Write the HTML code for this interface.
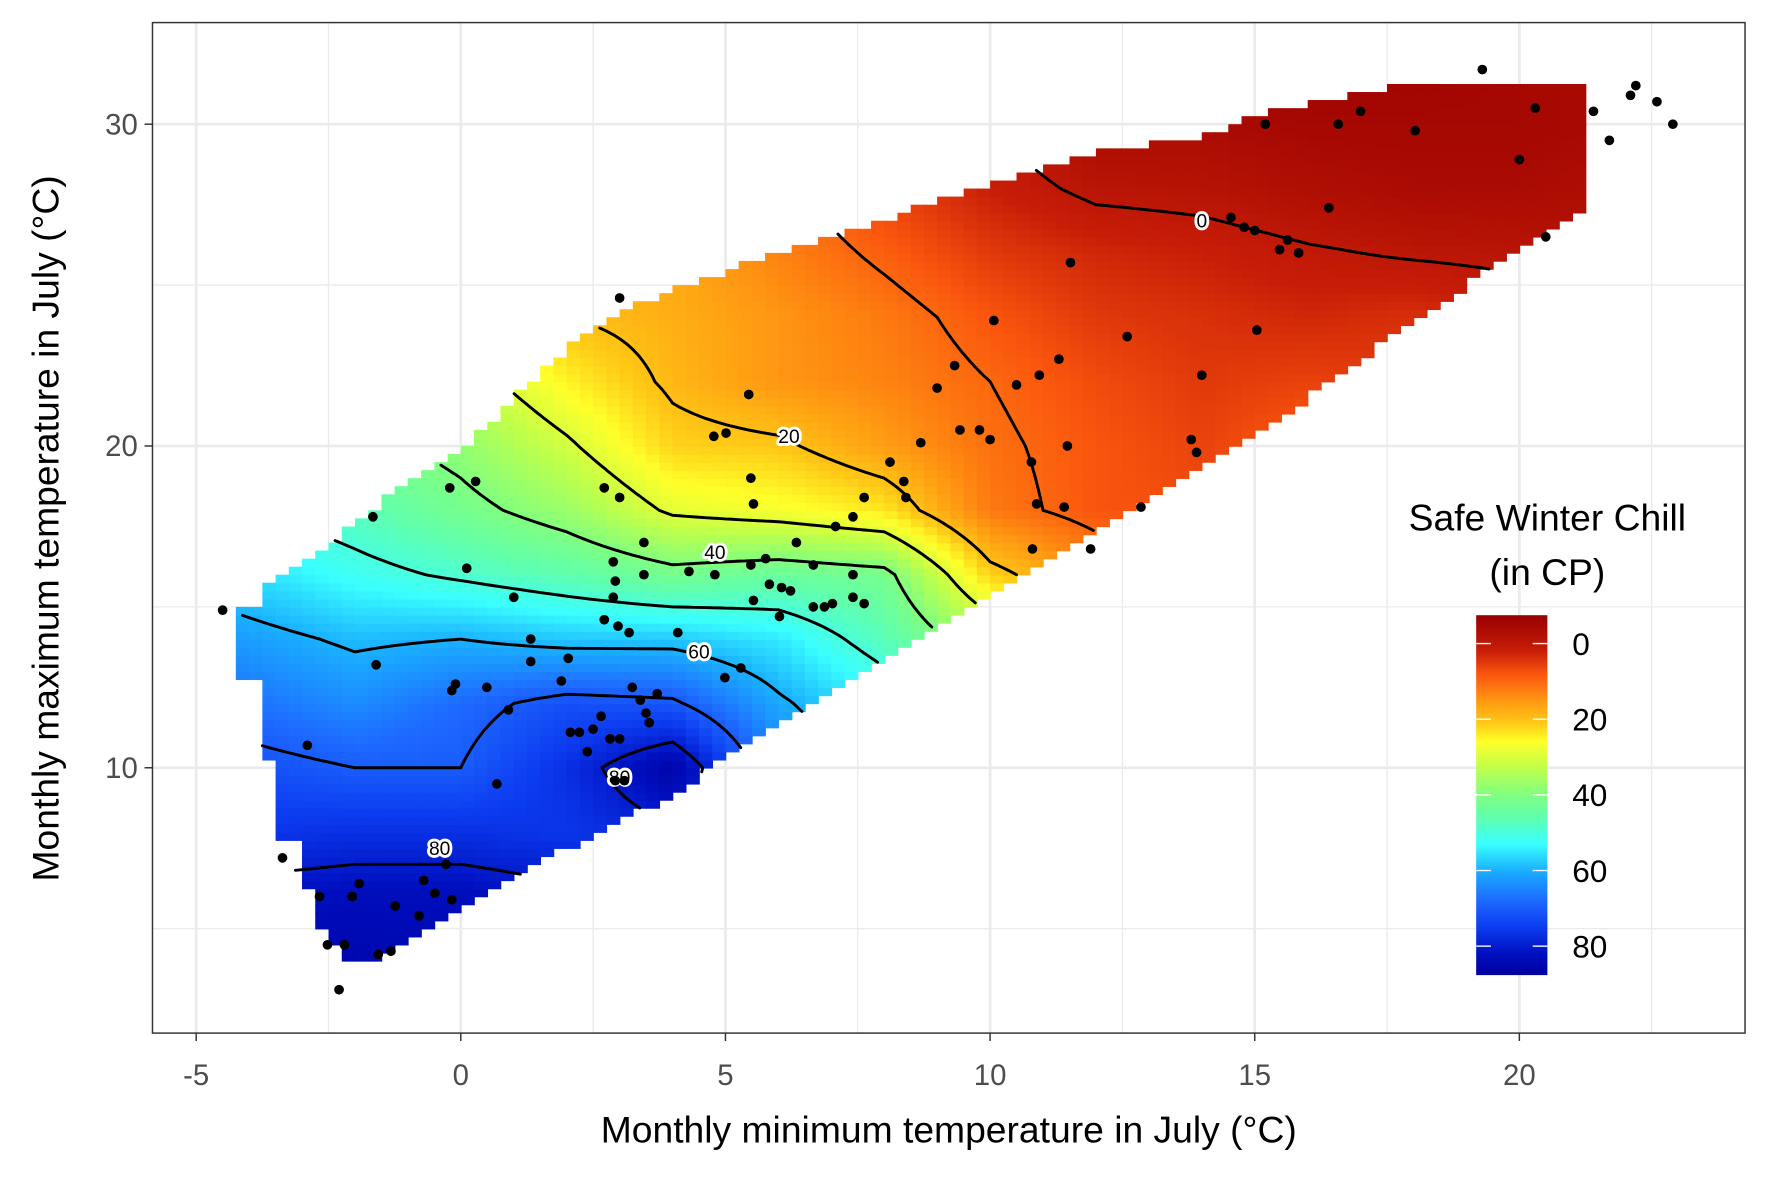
<!DOCTYPE html>
<html><head><meta charset="utf-8"><style>
html,body{margin:0;padding:0;background:#fff;}
svg{display:block;font-family:"Liberation Sans",sans-serif;}
</style></head><body>
<svg id="chart" width="1771" height="1181" viewBox="0 0 1568 1046" preserveAspectRatio="none" xmlns="http://www.w3.org/2000/svg">
<rect x="0" y="0" width="1568" height="1046" fill="#fff"/>
<g id="grid"></g>
<g id="fill"></g>
<g id="contours"></g>
<g id="clabels"></g>
<g id="points"></g>
<rect x="135" y="20" width="1410" height="895" fill="none" stroke="#333" stroke-width="1.3"/>
<g id="axes"></g>
<text x="840" y="1012" font-size="33" text-anchor="middle" fill="#000">Monthly minimum temperature in July (°C)</text>
<text transform="translate(52,468) rotate(-90)" font-size="33" text-anchor="middle" fill="#000">Monthly maximum temperature in July (°C)</text>
<g id="legend">
<text x="1370" y="470" font-size="33" text-anchor="middle">Safe Winter Chill</text>
<text x="1370" y="518" font-size="33" text-anchor="middle">(in CP)</text>
</g>
</svg>
<script>
const X=[-4,-2,0,2,4,6,8,10,12,14,16,18,20,22];
const Y=[4,6,8,10,12,14,16,18,20,22,24,26,28,30,32];
const Z=[
[86,85,84,82,80,78,75,72,68,64,60,56,52,50],
[82,83,83,81,79,76,72,70,66,62,58,54,50,48],
[76,77,77,76,79,72,68,62,58,54,50,46,42,40],
[72,70,70,77,86,65,60,52,46,40,34,30,26,24],
[67,64,68,72,71,61,54,46,38,32,26,22,18,16],
[62,59,60,58,58,55,47,35,30,24,18,14,12,10],
[56,52,49,46,42,44,42,22,14,10,8,7,6,6],
[50,47,42,37,29,27,24,12,8,7,6,6,5,5],
[45,42,38,31,22,21,16,11,8,6,9,6,5,4],
[40,37,33,25,19,15,13,10,7,5,6,5,3,2],
[35,32,28,20,18,15,12,8,5,4,3,4,2,1],
[30,28,25,18,17,13,9,5,3,2,0.5,-0.5,-1,-2],
[25,22,20,16,15,11,6,2,-1,-1.5,-3,-4,-4,-3],
[20,18,16,14,13,9,4,0,-4,-4,-5,-5,-5,-4],
[15,14,13,12,11,7,2,-2,-5,-5,-6,-6,-5,-4]];
const maskX=[-4.15,-3.8,-3.79,-3.45,-3.44,-3.1,-3.09,-2.75,-2.74,-2.4,-2,-1,0,1,2,3,4,5,6,7,8,9,10,11,12,13,14,15,16,17,18,19,20,21,21.3];
const maskLo=[12.7,12.7,10.2,10.2,7.7,7.7,6.2,6.2,5.2,4.5,3.8,4.6,5.7,6.6,7.5,8.3,9.2,10.3,11.3,12.4,13.5,14.4,15.4,16.4,17.4,18.3,19.3,20.4,21.5,22.7,23.9,25,26.2,27.2,27.5];
const maskHi=[14.9,14.9,15.7,16.0,16.0,16.3,16.3,16.6,16.6,17.0,17.7,18.8,19.8,21.5,23,24.2,24.8,25.4,26,26.5,27,27.6,28.1,28.6,29.1,29.4,29.6,30.3,30.6,31,31.3,31.3,31.3,31.3,31.3];
const levels=[0,10,20,30,40,50,60,70,80];
const ptX=[-4.5,-3.37,-2.9,-2.67,-2.52,-2.3,-2.2,-2.05,-1.92,-1.56,-1.32,-1.24,-0.79,-0.7,-0.49,-0.28,-0.17,-1.66,-1.6,-0.21,0.11,0.28,-0.17,-0.1,0.49,0.68,0.9,1.0,1.32,1.32,1.9,2.03,2.07,2.24,2.39,2.5,2.65,2.82,2.92,3.09,3.0,3.24,3.39,3.5,3.56,3.71,2.71,3.0,3.0,2.88,2.92,2.88,2.97,3.18,2.71,3.46,3.46,4.1,4.31,4.8,4.99,5.29,4.78,5.01,5.44,5.48,5.53,5.48,5.53,5.76,5.83,6.02,6.06,6.23,6.34,6.66,6.66,6.87,7.02,7.08,7.41,7.41,7.41,7.62,7.62,8.11,8.41,8.37,8.69,9.0,9.33,9.43,9.8,10.0,10.07,10.5,10.78,10.8,10.88,10.93,11.3,11.4,11.46,11.52,11.9,12.59,12.85,13.8,13.9,14.0,14.55,14.8,15.0,15.04,15.2,15.47,15.62,15.83,16.4,16.58,17.0,18.03,19.3,20.0,20.3,20.5,21.4,21.7,22.1,22.2,22.6,22.9];
const ptY=[14.9,7.2,10.7,6.0,4.5,3.1,4.5,6.0,6.4,4.2,4.3,5.7,5.4,6.5,6.1,7.0,5.9,17.8,13.2,18.7,16.2,18.9,12.4,12.6,12.5,9.5,11.8,15.3,14.0,13.3,12.7,13.4,11.1,11.1,10.5,11.2,11.6,10.9,9.6,9.6,10.9,12.5,12.1,11.7,11.4,12.3,18.7,18.4,24.6,16.4,15.8,15.3,14.4,14.2,14.6,17.0,16.0,14.2,16.1,16.0,12.8,13.1,20.3,20.4,21.6,19.0,18.2,16.3,15.2,16.5,15.7,14.7,15.6,15.5,17.0,16.3,15.0,15.0,15.1,17.5,17.8,16.0,15.3,15.1,18.4,19.5,18.4,18.9,20.1,21.8,22.5,20.5,20.5,20.2,23.9,21.9,19.5,16.8,18.2,22.2,22.7,18.1,20.0,25.7,16.8,23.4,18.1,20.2,19.8,22.2,27.1,26.8,26.7,23.6,30.0,26.1,26.4,26.0,27.4,30.0,30.4,29.8,31.7,28.9,30.5,26.5,30.4,29.5,30.9,31.2,30.7,30.0];
const xTicks=[-5,0,5,10,15,20];
const yTicks=[10,20,30];
const legendTicks=[0,20,40,60,80];
const clabelVals=["0","20","40","60","80","80"];
const clabelX=[14,6.2,4.8,4.5,3.0,-0.4];
const clabelY=[27.0,20.3,16.7,13.6,9.7,7.5];

const NS="http://www.w3.org/2000/svg";
const sx=v=>408+v*46.86, sy=v=>680-(v-10)*28.5;
function mk(tag,attrs,parent){const e=document.createElementNS(NS,tag);for(const k in attrs)e.setAttribute(k,attrs[k]);parent.appendChild(e);return e;}
function interp(xs,ys,x){if(x<=xs[0])return ys[0];for(let i=1;i<xs.length;i++){if(x<=xs[i]){const t=(x-xs[i-1])/(xs[i]-xs[i-1]);return ys[i-1]+t*(ys[i]-ys[i-1]);}}return ys[ys.length-1];}
function inMask(x,y){if(x<maskX[0]||x>maskX[maskX.length-1])return false;return y>=interp(maskX,maskLo,x)&&y<=interp(maskX,maskHi,x);}
function val(x,y){let i=Math.floor((x-X[0])/2),j=Math.floor((y-Y[0])/2);i=Math.max(0,Math.min(X.length-2,i));j=Math.max(0,Math.min(Y.length-2,j));
 const tx=(x-X[i])/2,ty=(y-Y[j])/2;const a=Z[j][i],b=Z[j][i+1],c=Z[j+1][i],d=Z[j+1][i+1];
 return a*(1-tx)*(1-ty)+b*tx*(1-ty)+c*(1-tx)*ty+d*tx*ty;}
const stops=[[-7.5,[153,0,0]],[2,[200,30,8]],[8,[250,85,14]],[15,[255,150,18]],[21,[255,200,22]],[26,[255,255,42]],[33,[190,255,75]],[40,[128,255,128]],[46,[95,255,175]],[53,[58,255,255]],[60,[26,176,255]],[68,[30,105,255]],[75,[13,60,240]],[82,[0,16,192]],[87.5,[0,0,160]]];
function col(v){if(v<=stops[0][0])return stops[0][1];for(let i=1;i<stops.length;i++){if(v<=stops[i][0]){const t=(v-stops[i-1][0])/(stops[i][0]-stops[i-1][0]);const a=stops[i-1][1],b=stops[i][1];return [0,1,2].map(k=>Math.round(a[k]+t*(b[k]-a[k])));}}return stops[stops.length-1][1];}
const rgb=c=>`rgb(${c[0]},${c[1]},${c[2]})`;

// grid
const g=document.getElementById('grid');
[-2.5,2.5,7.5,12.5,17.5,22.5].forEach(v=>{const l=mk('line',{x1:sx(v),x2:sx(v),y1:20,y2:915,stroke:'#ebebeb','stroke-width':1.2},g);});
[5,15,25].forEach(v=>{const l=mk('line',{x1:135,x2:1545,y1:sy(v),y2:sy(v),stroke:'#ebebeb','stroke-width':1.2},g);});
xTicks.forEach(v=>{const l=mk('line',{x1:sx(v),x2:sx(v),y1:20,y2:915,stroke:'#ebebeb','stroke-width':2.4},g);});
yTicks.forEach(v=>{const l=mk('line',{x1:135,x2:1545,y1:sy(v),y2:sy(v),stroke:'#ebebeb','stroke-width':2.4},g);});

// fill
const f=document.getElementById('fill');const st=0.25,w=st*46.86,h=st*28.5;
const NX=Math.round((21.5-(-4.25))/st), NY=Math.round((32-3.5)/st);
for(let i=0;i<NX;i++){const xc=-4.25+(i+0.5)*st;for(let j=0;j<NY;j++){const yc=3.5+(j+0.5)*st;if(!inMask(xc,yc))continue;
 const r=mk('rect',{x:(sx(xc-st/2)).toFixed(1),y:(sy(yc+st/2)).toFixed(1),width:(w+0.7).toFixed(1),height:(h+0.7).toFixed(1),fill:rgb(col(val(xc,yc)))},f);
 
 }}

// contours (marching squares on node array)
const cg=document.getElementById('contours');
const cs=0.125, CX=Math.round((21.5+4.25)/cs), CY=Math.round((32-3.5)/cs);
const node=[];for(let i=0;i<=CX;i++){node.push([]);for(let j=0;j<=CY;j++)node[i].push(val(-4.25+i*cs,3.5+j*cs));}
levels.forEach(L=>{let d='';
 for(let i=0;i<CX;i++){const x0=-4.25+i*cs,x1=x0+cs;for(let j=0;j<CY;j++){const y0=3.5+j*cs,y1=y0+cs;if(!inMask(x0+cs/2,y0+cs/2))continue;
  const c=[[x0,y0,node[i][j]],[x1,y0,node[i+1][j]],[x1,y1,node[i+1][j+1]],[x0,y1,node[i][j+1]]];const p=[];
  for(let k=0;k<4;k++){const a=c[k],b=c[(k+1)%4];if((a[2]>=L)!==(b[2]>=L)){const t=(L-a[2])/(b[2]-a[2]);p.push([a[0]+t*(b[0]-a[0]),a[1]+t*(b[1]-a[1])]);}}
  for(let k=0;k+1<p.length;k+=2){d+=`M${sx(p[k][0]).toFixed(1)},${sy(p[k][1]).toFixed(1)}L${sx(p[k+1][0]).toFixed(1)},${sy(p[k+1][1]).toFixed(1)}`;}}}
 if(d){const e=mk('path',{d:d,fill:'none',stroke:'#000','stroke-width':2.6,'stroke-linecap':'round'},cg);
 
 }});

// contour labels
const lg=document.getElementById('clabels');
clabelVals.forEach((t,i)=>{const e=mk('text',{x:sx(clabelX[i]),y:sy(clabelY[i])+6,'font-size':17,'text-anchor':'middle',fill:'#000',stroke:'#fff','stroke-width':5,'paint-order':'stroke','stroke-linejoin':'round'},lg);e.textContent=t;
 
 });

// points
const pg=document.getElementById('points');
ptX.forEach((v,i)=>{const c=mk('circle',{cx:sx(v).toFixed(1),cy:sy(ptY[i]).toFixed(1),r:4.3,fill:'#000'},pg);
 
 });

// axes
const ax=document.getElementById('axes');
xTicks.forEach(v=>{const t=mk('line',{x1:sx(v),x2:sx(v),y1:915,y2:922,stroke:'#333','stroke-width':1.3},ax);
 const e=mk('text',{x:sx(v),y:961,'font-size':26,'text-anchor':'middle',fill:'#4d4d4d'},ax);e.textContent=String(v);});
yTicks.forEach(v=>{const t=mk('line',{x1:128,x2:135,y1:sy(v),y2:sy(v),stroke:'#333','stroke-width':1.3},ax);
 const e=mk('text',{x:122,y:sy(v)+9,'font-size':26,'text-anchor':'end',fill:'#4d4d4d'},ax);e.textContent=String(v);});

// legend colorbar
const leg=document.getElementById('legend');const lsy=v=>570+v*3.35;
for(let v=-7.5;v<87.5;v+=0.5){const r=mk('rect',{x:1307,y:lsy(v).toFixed(2),width:63,height:2.2,fill:rgb(col(v+0.25))},leg);}
legendTicks.forEach(v=>{
 const a=mk('line',{x1:1307,x2:1320,y1:lsy(v),y2:lsy(v),stroke:'#fff','stroke-width':1.2},leg);
 const b=mk('line',{x1:1357,x2:1370,y1:lsy(v),y2:lsy(v),stroke:'#fff','stroke-width':1.2},leg);
 const e=mk('text',{x:1392,y:lsy(v)+10,'font-size':28,fill:'#000'},leg);e.textContent=String(v);});
</script>
</body></html>
